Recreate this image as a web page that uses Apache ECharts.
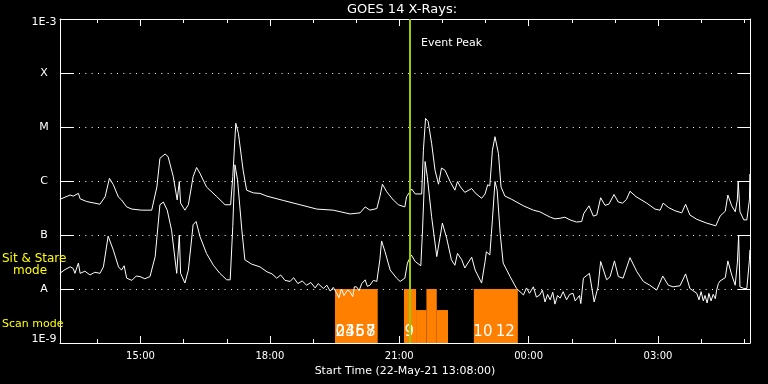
<!DOCTYPE html>
<html>
<head>
<meta charset="utf-8">
<script src="https://cdn.jsdelivr.net/npm/echarts@6/dist/echarts.min.js"></script>
<style>
html,body{margin:0;padding:0;background:#000;}
#c{width:768px;height:384px;}
</style>
</head>
<body>
<div id="c"></div>
<script>
// Time in hours of day (22-May-21; values >24 are 23-May)
const longTime = [13.13,13.25,13.37,13.44,13.48,13.56,13.60,13.75,14.06,14.18,14.28,14.37,14.49,14.56,14.68,14.80,15.03,15.26,15.38,15.45,15.57,15.64,15.76,15.85,15.90,15.93,16.03,16.11,16.22,16.30,16.38,16.53,16.77,16.96,17.09,17.14,17.21,17.27,17.38,17.46,17.62,17.77,17.93,18.31,18.70,19.09,19.47,19.86,20.09,20.21,20.32,20.48,20.55,20.61,20.71,20.86,20.98,21.13,21.17,21.29,21.37,21.52,21.56,21.61,21.67,21.75,21.83,21.91,21.98,22.06,22.18,22.29,22.35,22.42,22.52,22.68,22.76,22.91,22.99,23.05,23.10,23.16,23.22,23.30,23.36,23.45,23.61,23.88,24.11,24.26,24.50,24.61,24.73,24.84,24.96,25.11,25.23,25.28,25.40,25.50,25.58,25.67,25.77,25.86,25.98,26.08,26.18,26.27,26.35,26.49,26.74,26.93,27.05,27.12,27.24,27.39,27.55,27.64,27.74,27.90,28.13,28.34,28.44,28.56,28.62,28.71,28.79,28.84,28.86,28.90,28.99,29.06,29.12,29.13];
// log10 of flux (W/m^2), 1-8 Angstrom channel
const longLog = [-6.34,-6.30,-6.26,-6.28,-6.31,-6.23,-6.33,-6.38,-6.43,-6.29,-5.95,-6.07,-6.30,-6.35,-6.48,-6.52,-6.54,-6.54,-6.11,-5.58,-5.50,-5.55,-5.92,-6.35,-6.01,-6.41,-6.54,-6.44,-5.92,-5.75,-5.86,-6.11,-6.29,-6.44,-6.44,-5.92,-4.93,-5.12,-5.80,-6.17,-6.22,-6.23,-6.28,-6.36,-6.44,-6.52,-6.54,-6.61,-6.59,-6.48,-6.54,-6.51,-6.29,-6.06,-6.20,-6.35,-6.44,-6.48,-6.29,-6.15,-6.24,-6.24,-5.43,-4.84,-4.90,-5.30,-5.80,-6.06,-5.76,-5.80,-6.01,-6.17,-6.01,-6.11,-6.21,-6.14,-6.22,-6.32,-6.24,-6.07,-6.09,-5.43,-5.18,-5.49,-6.11,-6.28,-6.34,-6.46,-6.54,-6.57,-6.67,-6.70,-6.69,-6.67,-6.72,-6.76,-6.75,-6.60,-6.46,-6.65,-6.63,-6.31,-6.45,-6.43,-6.25,-6.39,-6.41,-6.34,-6.19,-6.29,-6.41,-6.52,-6.54,-6.41,-6.49,-6.55,-6.59,-6.43,-6.63,-6.71,-6.78,-6.83,-6.65,-6.56,-6.26,-6.46,-6.57,-6.35,-6.00,-6.57,-6.72,-6.72,-6.35,-5.87];

// 0.5-4 Angstrom channel
const shortTime = [13.13,13.25,13.37,13.44,13.48,13.56,13.60,13.71,13.83,13.94,14.06,14.14,14.25,14.37,14.49,14.56,14.62,14.68,14.80,14.90,14.99,15.10,15.22,15.34,15.45,15.53,15.62,15.72,15.84,15.90,15.93,16.03,16.11,16.22,16.29,16.38,16.53,16.69,16.84,17.00,17.08,17.14,17.19,17.25,17.35,17.42,17.58,17.77,17.93,18.05,18.16,18.25,18.35,18.47,18.55,18.65,18.75,18.85,18.95,19.05,19.12,19.24,19.32,19.40,19.47,19.55,19.60,19.66,19.72,19.80,19.86,19.92,19.96,20.01,20.07,20.13,20.21,20.26,20.32,20.40,20.48,20.55,20.59,20.67,20.79,20.94,21.02,21.13,21.19,21.28,21.37,21.50,21.54,21.60,21.65,21.75,21.87,22.00,22.10,22.21,22.29,22.35,22.45,22.52,22.68,22.76,22.91,22.99,23.02,23.10,23.16,23.22,23.27,23.34,23.41,23.57,23.72,23.88,23.95,24.02,24.11,24.18,24.26,24.32,24.38,24.44,24.50,24.56,24.61,24.67,24.73,24.80,24.88,24.95,25.03,25.08,25.12,25.18,25.21,25.27,25.41,25.52,25.61,25.67,25.81,25.89,25.99,26.08,26.19,26.35,26.51,26.66,26.81,26.97,27.11,27.24,27.35,27.51,27.64,27.74,27.90,27.95,28.00,28.05,28.09,28.14,28.18,28.23,28.28,28.33,28.36,28.40,28.44,28.56,28.62,28.71,28.79,28.84,28.87,28.90,28.99,29.06,29.12,29.13];
const shortLog = [-7.71,-7.64,-7.59,-7.62,-7.71,-7.52,-7.71,-7.67,-7.74,-7.69,-7.71,-7.59,-7.02,-7.28,-7.59,-7.65,-7.57,-7.80,-7.84,-7.76,-7.77,-7.81,-7.77,-7.40,-6.44,-6.39,-6.54,-6.91,-7.71,-7.00,-7.71,-7.89,-7.65,-6.81,-6.75,-7.03,-7.34,-7.56,-7.71,-7.83,-7.83,-6.84,-5.70,-5.98,-6.91,-7.46,-7.54,-7.59,-7.68,-7.72,-7.80,-7.74,-7.84,-7.86,-7.79,-7.90,-7.85,-7.93,-7.88,-7.98,-7.90,-7.99,-7.93,-8.04,-7.97,-8.08,-8.16,-8.00,-8.12,-8.02,-8.05,-8.14,-7.96,-7.96,-8.03,-7.90,-7.83,-7.95,-7.93,-7.84,-7.86,-7.46,-7.11,-7.31,-7.65,-7.80,-7.86,-7.80,-7.52,-7.37,-7.49,-7.57,-6.91,-5.64,-5.92,-6.66,-7.40,-6.78,-7.06,-7.46,-7.56,-7.34,-7.46,-7.61,-7.41,-7.65,-7.89,-7.49,-7.31,-7.37,-6.72,-6.01,-6.17,-6.97,-7.52,-7.77,-7.99,-8.11,-7.98,-8.08,-7.96,-8.15,-8.11,-8.02,-8.24,-8.10,-8.20,-8.06,-8.28,-8.12,-8.17,-8.05,-8.20,-8.10,-8.08,-8.22,-8.24,-8.12,-8.27,-7.80,-7.71,-8.24,-7.96,-7.49,-7.83,-7.77,-7.48,-7.77,-7.80,-7.42,-7.68,-7.86,-7.93,-8.02,-7.76,-7.93,-7.96,-7.94,-7.72,-7.99,-8.08,-8.20,-8.05,-8.22,-8.12,-8.26,-8.08,-8.22,-8.10,-8.18,-8.02,-7.90,-7.85,-7.79,-7.48,-7.74,-7.93,-7.52,-7.01,-7.96,-7.99,-7.99,-7.46,-7.28];

// Scan mode segments (hours) and top level (log10 flux)
const scanStart = [19.51,21.11,21.39,21.63,21.87,22.73];
const scanEnd   = [20.50,21.39,21.63,21.87,22.13,23.75];
const scanTop   = [-8.00,-8.00,-8.39,-8.00,-8.39,-8.00];
// Scan number labels
const scanLabelTime = [19.63,19.63,19.86,19.86,20.09,20.09,20.34,20.34,21.23,22.94,23.46];
const scanLabelText = ['0','2','3','4','5','6','7','8','9','10','12'];

const eventPeak = 21.25;
const yTickLabels = {'-9':'1E-9','-8':'A','-7':'B','-6':'C','-5':'M','-4':'X','-3':'1E-3'};

const xMin = 13 + 8/60, xMax = xMin + 16;

const chart = echarts.init(document.getElementById('c'), null, {renderer:'canvas'});
const white = '#ffffff';
const font = 'DejaVu Sans';

function xAxisCommon(pos){
  return {
    type:'value', position:pos, min:xMin, max:xMax, minInterval:3, maxInterval:3,
    axisLine:{show:true, onZero:false, lineStyle:{color:white, width:1}},
    axisTick:{show:true, inside:true, length:7, lineStyle:{color:white}},
    minorTick:{show:true, splitNumber:3, length:4, lineStyle:{color:white}},
    splitLine:{show:false},
    axisLabel:{show: pos==='bottom', color:white, fontFamily:font, fontSize:10, margin:8,
      showMinLabel:false, showMaxLabel:false,
      formatter:v=>{const h=((Math.round(v)%24)+24)%24; return (h<10?'0':'')+h+':00';}}
  };
}

const option = {
  backgroundColor:'#000',
  animation:false,
  grid:{left:60, right:18, top:19, bottom:41, containLabel:false},
  xAxis:[
    Object.assign(xAxisCommon('bottom'), {name:'Start Time (22-May-21 13:08:00)', nameLocation:'middle', nameGap:19,
      nameTextStyle:{color:white, fontFamily:font, fontSize:11}}),
    xAxisCommon('top')
  ],
  yAxis:[
    {type:'value', position:'left', min:-9, max:-3, interval:1,
     axisLine:{show:true, onZero:false, lineStyle:{color:white}},
     axisTick:{show:true, inside:true, length:14, lineStyle:{color:white}},
     splitLine:{show:true, lineStyle:{color:white, type:[1,5.33], width:1}},
     axisLabel:{color:white, fontFamily:font, fontSize:11, margin:16, align:'center',
       formatter:v=>{const k=String(Math.round(v)); const t=yTickLabels[k];
         if(k==='-9') return '{lo|'+t+'}'; if(k==='-3') return '{hi|'+t+'}'; return t;},
       rich:{lo:{color:white, fontFamily:font, fontSize:11, padding:[0,0,7,0]},
             hi:{color:white, fontFamily:font, fontSize:11, padding:[7,0,0,0]}}}
    },
    {type:'value', position:'right', min:-9, max:-3, interval:1,
     axisLine:{show:true, onZero:false, lineStyle:{color:white}},
     axisTick:{show:true, inside:true, length:12, lineStyle:{color:white}},
     splitLine:{show:false}, axisLabel:{show:false}}
  ],
  series:[
    {type:'custom', xAxisIndex:0, yAxisIndex:0, z:1,
     data: scanStart.map((s,i)=>[s, scanEnd[i], scanTop[i]]),
     encode:{x:[0,1], y:2},
     renderItem:(params, api)=>{
       const p0 = api.coord([api.value(0), api.value(2)]);
       const p1 = api.coord([api.value(1), -9]);
       return {type:'rect', shape:{x:p0[0], y:p0[1], width:p1[0]-p0[0], height:p1[1]-p0[1]},
               style:{fill:'#ff8000'}};
     }
    },
    {type:'custom', xAxisIndex:0, yAxisIndex:0, z:2,
     data: scanLabelTime.map((t,i)=>[t, -8.8, scanLabelText[i]]),
     encode:{x:0, y:1},
     renderItem:(params, api)=>{
       const p = api.coord([api.value(0), api.value(1)]);
       return {type:'text', x:p[0], y:p[1],
               style:{text: scanLabelText[params.dataIndex], fill:white, font:'15px "DejaVu Sans"',
                      textAlign:'center', textVerticalAlign:'middle'}};
     }
    },
    {type:'line', name:'long', xAxisIndex:0, yAxisIndex:0, z:3, symbol:'none',
     data: longTime.map((t,i)=>[t, longLog[i]]),
     lineStyle:{color:white, width:1}},
    {type:'line', name:'short', xAxisIndex:0, yAxisIndex:0, z:3, symbol:'none',
     data: shortTime.map((t,i)=>[t, shortLog[i]]),
     lineStyle:{color:white, width:1},
     markLine:{silent:true, symbol:['none','none'], label:{show:false},
       lineStyle:{color:'#9ccc00', width:2, type:'solid'},
       data:[{xAxis:eventPeak}]}}
  ],
  graphic:[
    {type:'text', x:402, y:10, z:10,
     style:{text:'GOES 14 X-Rays:', fill:white, font:'13px "DejaVu Sans"', textAlign:'center', textVerticalAlign:'middle'}},
    {type:'text', x:421, y:43, z:10,
     style:{text:'Event Peak', fill:white, font:'11px "DejaVu Sans"', textAlign:'left', textVerticalAlign:'middle'}},
    {type:'text', x:2, y:259, z:10,
     style:{text:'Sit & Stare', fill:'#ffff00', font:'12px "DejaVu Sans"', textAlign:'left', textVerticalAlign:'middle'}},
    {type:'text', x:13, y:271, z:10,
     style:{text:'mode', fill:'#ffff00', font:'12px "DejaVu Sans"', textAlign:'left', textVerticalAlign:'middle'}},
    {type:'text', x:2, y:324, z:10,
     style:{text:'Scan mode', fill:'#ffff00', font:'11px "DejaVu Sans"', textAlign:'left', textVerticalAlign:'middle'}}
  ]
};
chart.setOption(option);
</script>
</body>
</html>
